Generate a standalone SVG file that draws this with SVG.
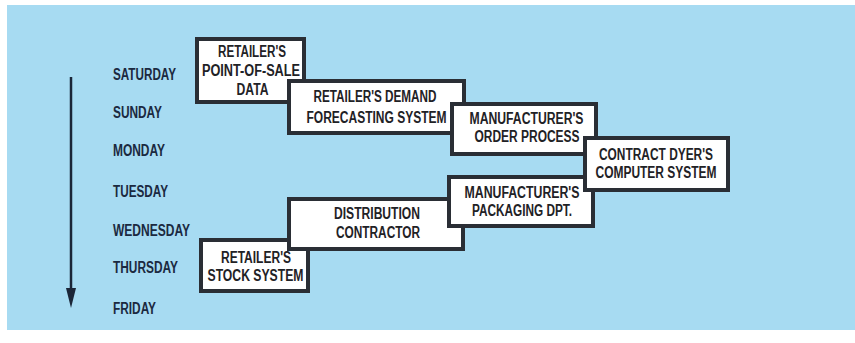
<svg xmlns="http://www.w3.org/2000/svg" width="855" height="343" viewBox="0 0 855 343">
<style>
.bg{fill:#a7dbf2}
.box{fill:#ffffff;stroke:#2a2e35;stroke-width:4}
.t{font-family:"Liberation Sans",Arial,sans-serif;font-weight:bold;font-size:16px;fill:#1f2226}
.d{font-family:"Liberation Sans",Arial,sans-serif;font-weight:bold;font-size:16px;fill:#1b2940}
.ax{stroke:#1b2638;stroke-width:2.5;fill:none}
.ah{fill:#1b2638}
</style>
<rect class="bg" x="7" y="5" width="848" height="325"/>

<g id="days">
<text class="d" x="113" y="80" textLength="63" lengthAdjust="spacingAndGlyphs">SATURDAY</text>
<text class="d" x="113" y="118" textLength="49" lengthAdjust="spacingAndGlyphs">SUNDAY</text>
<text class="d" x="113" y="156" textLength="52" lengthAdjust="spacingAndGlyphs">MONDAY</text>
<text class="d" x="113" y="197" textLength="55" lengthAdjust="spacingAndGlyphs">TUESDAY</text>
<text class="d" x="113" y="236" textLength="77" lengthAdjust="spacingAndGlyphs">WEDNESDAY</text>
<text class="d" x="113" y="273" textLength="65" lengthAdjust="spacingAndGlyphs">THURSDAY</text>
<text class="d" x="113" y="314" textLength="43" lengthAdjust="spacingAndGlyphs">FRIDAY</text>
</g>

<g id="connectors">
<line class="ax" x1="71" y1="77" x2="71" y2="292"/>
<polygon class="ah" points="66,288 76,288 71,308"/>
</g>

<g id="pos">
<rect class="box" x="197" y="39" width="107" height="63"/>
<text class="t" x="218" y="56.5" textLength="68" lengthAdjust="spacingAndGlyphs">RETAILER'S</text>
<text class="t" x="202" y="76" textLength="98" lengthAdjust="spacingAndGlyphs">POINT-OF-SALE</text>
<text class="t" x="236.5" y="95" textLength="32" lengthAdjust="spacingAndGlyphs">DATA</text>
</g>

<g id="forecasting">
<rect class="box" x="289" y="81" width="175" height="52"/>
<text class="t" x="313.5" y="102" textLength="123" lengthAdjust="spacingAndGlyphs">RETAILER'S DEMAND</text>
<text class="t" x="306.5" y="123" textLength="140" lengthAdjust="spacingAndGlyphs">FORECASTING SYSTEM</text>
</g>

<g id="order">
<rect class="box" x="452" y="104" width="144" height="50"/>
<text class="t" x="469.5" y="124" textLength="114" lengthAdjust="spacingAndGlyphs">MANUFACTURER'S</text>
<text class="t" x="474.5" y="142" textLength="105" lengthAdjust="spacingAndGlyphs">ORDER PROCESS</text>
</g>

<g id="stock">
<rect class="box" x="201" y="240" width="107" height="51"/>
<text class="t" x="221" y="263" textLength="70" lengthAdjust="spacingAndGlyphs">RETAILER'S</text>
<text class="t" x="207.5" y="281" textLength="96" lengthAdjust="spacingAndGlyphs">STOCK SYSTEM</text>
</g>

<g id="distribution">
<rect class="box" x="289" y="199" width="174" height="50"/>
<text class="t" x="334" y="219" textLength="86" lengthAdjust="spacingAndGlyphs">DISTRIBUTION</text>
<text class="t" x="336" y="238" textLength="84" lengthAdjust="spacingAndGlyphs">CONTRACTOR</text>
</g>

<g id="packaging">
<rect class="box" x="449" y="177" width="144" height="49"/>
<text class="t" x="464.5" y="198" textLength="115" lengthAdjust="spacingAndGlyphs">MANUFACTURER'S</text>
<text class="t" x="472" y="216" textLength="100" lengthAdjust="spacingAndGlyphs">PACKAGING DPT.</text>
</g>

<g id="dyer">
<rect class="box" x="585" y="138" width="143" height="52"/>
<text class="t" x="599" y="160" textLength="114" lengthAdjust="spacingAndGlyphs">CONTRACT DYER'S</text>
<text class="t" x="595.5" y="178" textLength="121" lengthAdjust="spacingAndGlyphs">COMPUTER SYSTEM</text>
</g>
</svg>
